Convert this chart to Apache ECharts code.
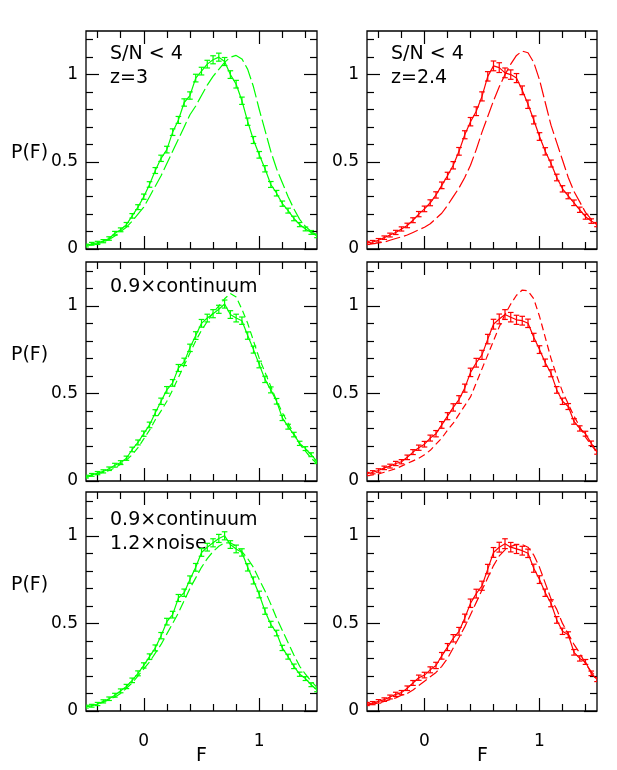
<!DOCTYPE html>
<html><head><meta charset="utf-8">
<script src="https://cdn.jsdelivr.net/npm/echarts@6.0.0/dist/echarts.min.js"></script>
<style>html,body{margin:0;padding:0;background:#fff}#c{width:617px;height:770px}</style>
</head><body><div id="c"></div>
<script>
// ---- data ----
const fGrid = [-0.50,-0.45,-0.40,-0.35,-0.30,-0.25,-0.20,-0.15,-0.10,-0.05,0.00,0.05,0.10,0.15,0.20,0.25,0.30,0.35,0.40,0.45,0.50,0.55,0.60,0.65,0.70,0.75,0.80,0.85,0.90,0.95,1.00,1.05,1.10,1.15,1.20,1.25,1.30,1.35,1.40,1.45,1.50];

// top row: S/N < 4
const dataZ3  = [0.02,0.03,0.035,0.045,0.06,0.09,0.11,0.14,0.19,0.24,0.30,0.37,0.45,0.52,0.57,0.67,0.74,0.84,0.88,0.98,1.02,1.06,1.085,1.10,1.075,1.00,0.945,0.85,0.73,0.625,0.54,0.46,0.37,0.32,0.26,0.22,0.175,0.14,0.115,0.095,0.075];
const modelZ3 = [0.02,0.025,0.03,0.04,0.055,0.075,0.10,0.125,0.16,0.20,0.24,0.30,0.36,0.42,0.49,0.56,0.63,0.70,0.77,0.82,0.88,0.94,0.99,1.03,1.07,1.10,1.11,1.09,1.03,0.93,0.80,0.68,0.56,0.46,0.38,0.30,0.23,0.17,0.13,0.10,0.08];
const dataZ24  = [0.035,0.04,0.05,0.065,0.08,0.095,0.115,0.135,0.165,0.20,0.23,0.265,0.31,0.365,0.42,0.48,0.56,0.655,0.73,0.79,0.875,0.99,1.05,1.04,1.01,1.0,0.98,0.91,0.83,0.74,0.645,0.56,0.49,0.41,0.345,0.305,0.265,0.225,0.185,0.16,0.14];
const modelZ24 = [0.025,0.03,0.035,0.04,0.05,0.06,0.07,0.08,0.095,0.11,0.125,0.145,0.175,0.205,0.25,0.30,0.35,0.41,0.48,0.57,0.67,0.76,0.85,0.93,1.00,1.06,1.11,1.135,1.125,1.07,0.97,0.84,0.71,0.61,0.51,0.41,0.33,0.27,0.21,0.17,0.14];

// middle row: 0.9 x continuum
const dataCont3  = [0.025,0.035,0.045,0.055,0.07,0.09,0.105,0.13,0.18,0.22,0.27,0.32,0.39,0.455,0.52,0.56,0.645,0.68,0.76,0.83,0.90,0.93,0.955,0.98,1.01,0.95,0.93,0.915,0.83,0.75,0.665,0.58,0.52,0.455,0.36,0.31,0.265,0.215,0.185,0.15,0.11];
const modelCont3 = [0.02,0.03,0.04,0.05,0.06,0.075,0.095,0.12,0.15,0.19,0.24,0.29,0.35,0.40,0.455,0.52,0.59,0.66,0.73,0.80,0.86,0.91,0.96,1.00,1.04,1.07,1.05,0.98,0.90,0.80,0.70,0.62,0.54,0.46,0.39,0.33,0.27,0.21,0.17,0.13,0.10];
const dataCont24  = [0.04,0.05,0.06,0.075,0.085,0.10,0.11,0.135,0.165,0.19,0.21,0.245,0.27,0.32,0.37,0.42,0.465,0.53,0.62,0.675,0.72,0.81,0.895,0.925,0.95,0.935,0.92,0.915,0.90,0.82,0.75,0.675,0.615,0.52,0.455,0.425,0.34,0.30,0.27,0.215,0.165];
const modelCont24 = [0.03,0.035,0.04,0.05,0.06,0.07,0.085,0.10,0.115,0.13,0.15,0.175,0.21,0.245,0.29,0.33,0.38,0.43,0.48,0.56,0.64,0.72,0.80,0.88,0.95,1.01,1.06,1.09,1.085,1.04,0.94,0.82,0.70,0.60,0.51,0.44,0.37,0.31,0.25,0.205,0.165];

// bottom row: 0.9 x continuum, 1.2 x noise
const dataNoise3  = [0.025,0.03,0.04,0.055,0.07,0.09,0.115,0.14,0.175,0.215,0.26,0.31,0.36,0.43,0.51,0.55,0.645,0.675,0.75,0.82,0.905,0.935,0.96,0.985,1.0,0.95,0.925,0.905,0.82,0.745,0.665,0.57,0.495,0.445,0.36,0.31,0.255,0.21,0.185,0.15,0.12];
const modelNoise3 = [0.025,0.03,0.04,0.05,0.065,0.08,0.10,0.13,0.16,0.20,0.24,0.28,0.33,0.38,0.44,0.50,0.56,0.63,0.70,0.76,0.82,0.87,0.91,0.94,0.96,0.96,0.94,0.91,0.87,0.82,0.75,0.685,0.61,0.53,0.46,0.39,0.32,0.255,0.21,0.17,0.135];
const dataNoise24  = [0.04,0.045,0.055,0.065,0.08,0.095,0.105,0.13,0.16,0.19,0.205,0.235,0.26,0.315,0.365,0.415,0.455,0.53,0.615,0.67,0.715,0.81,0.905,0.935,0.955,0.935,0.925,0.915,0.90,0.815,0.75,0.675,0.615,0.52,0.455,0.435,0.335,0.30,0.28,0.215,0.18];
const modelNoise24 = [0.035,0.04,0.045,0.055,0.065,0.075,0.09,0.10,0.12,0.145,0.17,0.195,0.22,0.255,0.30,0.36,0.42,0.48,0.55,0.62,0.69,0.76,0.83,0.885,0.92,0.94,0.95,0.95,0.935,0.89,0.82,0.73,0.64,0.58,0.50,0.44,0.38,0.33,0.27,0.225,0.19];

// error bar half-sizes
const errGreen = [0.008,0.008,0.009,0.009,0.010,0.011,0.011,0.012,0.013,0.014,0.015,0.016,0.017,0.018,0.019,0.019,0.020,0.021,0.021,0.022,0.022,0.022,0.023,0.023,0.023,0.022,0.022,0.021,0.021,0.020,0.019,0.018,0.017,0.016,0.015,0.014,0.013,0.012,0.011,0.011,0.010];
const errRed = [0.009,0.009,0.010,0.010,0.011,0.012,0.012,0.013,0.014,0.015,0.016,0.017,0.018,0.019,0.020,0.021,0.022,0.023,0.024,0.025,0.026,0.027,0.028,0.028,0.028,0.027,0.026,0.025,0.024,0.023,0.022,0.021,0.020,0.019,0.018,0.017,0.016,0.015,0.014,0.013,0.012];

// ticks
const xMajorTicks = [0, 1];
const xMinorTicks = [-0.4,-0.2,0.2,0.4,0.6,0.8,1.2,1.4];
const yMajorTicks = [0, 0.5, 1];
const yMinorTicks = [0.1,0.2,0.3,0.4,0.6,0.7,0.8,0.9,1.1,1.2];

const panelLabels = [
  ['S/N < 4', 'z=3'], ['S/N < 4', 'z=2.4'],
  ['0.9×continuum'], [],
  ['0.9×continuum', '1.2×noise'], []
];

// ---- layout ----
const GREEN = '#00ff00', RED = '#ff0000';
const colLeft = [86, 367], colWidth = [231, 230];
const rowTop = [31, 262, 492], rowHeight = [218, 219, 219];
const dashes = [[15, 4], [7, 4], [10, 4]];
const panels = [
  {data: dataZ3, model: modelZ3, err: errGreen, color: GREEN},
  {data: dataZ24, model: modelZ24, err: errRed, color: RED},
  {data: dataCont3, model: modelCont3, err: errGreen, color: GREEN},
  {data: dataCont24, model: modelCont24, err: errRed, color: RED},
  {data: dataNoise3, model: modelNoise3, err: errGreen, color: GREEN},
  {data: dataNoise24, model: modelNoise24, err: errRed, color: RED}
];

const FONT = 'DejaVu Sans';
const grids = [], xAxes = [], yAxes = [], series = [], graphics = [];

panels.forEach((p, i) => {
  const row = Math.floor(i / 2), col = i % 2;
  grids.push({left: colLeft[col], top: rowTop[row], width: colWidth[col], height: rowHeight[row],
    show: true, borderColor: '#000', borderWidth: 1.3, backgroundColor: 'transparent'});
  const tickStyle = {color: '#000', width: 1.2};
  const mkX = (pos, vals, len, labels) => ({
    gridIndex: i, type: 'value', min: -0.5, max: 1.5, position: pos,
    axisLine: {show: false, onZero: false}, splitLine: {show: false},
    axisTick: {show: true, inside: true, length: len, customValues: vals, lineStyle: tickStyle},
    axisLabel: {show: labels, customValues: vals, margin: 22, color: '#000', fontFamily: FONT, fontSize: 17}
  });
  const mkY = (pos, vals, len, labels) => ({
    gridIndex: i, type: 'value', min: 0, max: 1.25, position: pos,
    axisLine: {show: false, onZero: false}, splitLine: {show: false},
    axisTick: {show: true, inside: true, length: len, customValues: vals, lineStyle: tickStyle},
    axisLabel: {show: labels, customValues: vals, margin: 8, color: '#000', fontFamily: FONT, fontSize: 17}
  });
  xAxes.push(mkX('bottom', xMajorTicks, 13, row === 2));
  xAxes.push(mkX('bottom', xMinorTicks, 7, false));
  xAxes.push(mkX('top', xMajorTicks, 13, false));
  xAxes.push(mkX('top', xMinorTicks, 7, false));
  yAxes.push(mkY('left', yMajorTicks, 13, true));
  yAxes.push(mkY('left', yMinorTicks, 7, false));
  yAxes.push(mkY('right', yMajorTicks, 13, false));
  yAxes.push(mkY('right', yMinorTicks, 7, false));

  const ax = 4 * i;
  series.push({type: 'line', xAxisIndex: ax, yAxisIndex: ax, showSymbol: false, silent: true,
    data: fGrid.map((f, k) => [f, p.data[k]]), lineStyle: {color: p.color, width: 1.2}});
  series.push({type: 'custom', xAxisIndex: ax, yAxisIndex: ax, silent: true, clip: true,
    data: fGrid.map((f, k) => [f, p.data[k], p.err[k]]),
    encode: {x: 0, y: 1},
    renderItem: (params, api) => {
      const x = api.value(0), y = api.value(1), e = api.value(2);
      const t = api.coord([x, y + e]), b = api.coord([x, y - e]);
      const w = 2.8, st = {stroke: p.color, lineWidth: 1.2};
      return {type: 'group', children: [
        {type: 'line', shape: {x1: t[0], y1: t[1], x2: b[0], y2: b[1]}, style: st},
        {type: 'line', shape: {x1: t[0] - w, y1: t[1], x2: t[0] + w, y2: t[1]}, style: st},
        {type: 'line', shape: {x1: b[0] - w, y1: b[1], x2: b[0] + w, y2: b[1]}, style: st}
      ]};
    }});
  series.push({type: 'line', xAxisIndex: ax, yAxisIndex: ax, showSymbol: false, silent: true,
    data: fGrid.map((f, k) => [f, p.model[k]]), lineStyle: {color: p.color, width: 1.2, type: dashes[row]}});

  panelLabels[i].forEach((txt, j) => {
    graphics.push({type: 'text', left: colLeft[col] + 24, top: rowTop[row] + (row === 0 ? 14 : (row === 1 ? 16 : 19)) + j * 24,
      style: {text: txt, font: '19px "' + FONT + '"', fill: '#000'}});
  });
});

const yLabelY = [155, 357, 587];
yLabelY.forEach(y => graphics.push({type: 'text', left: 11, top: y - 11,
  style: {text: 'P(F)', font: '19px "' + FONT + '"', fill: '#000'}}));
[202, 483].forEach(x => graphics.push({type: 'text', left: x - 6, top: 747,
  style: {text: 'F', font: '19px "' + FONT + '"', fill: '#000'}}));

const chart = echarts.init(document.getElementById('c'), null, {renderer: 'canvas'});
chart.setOption({
  backgroundColor: '#fff', animation: false,
  grid: grids, xAxis: xAxes, yAxis: yAxes, series: series, graphic: graphics
});
</script></body></html>
